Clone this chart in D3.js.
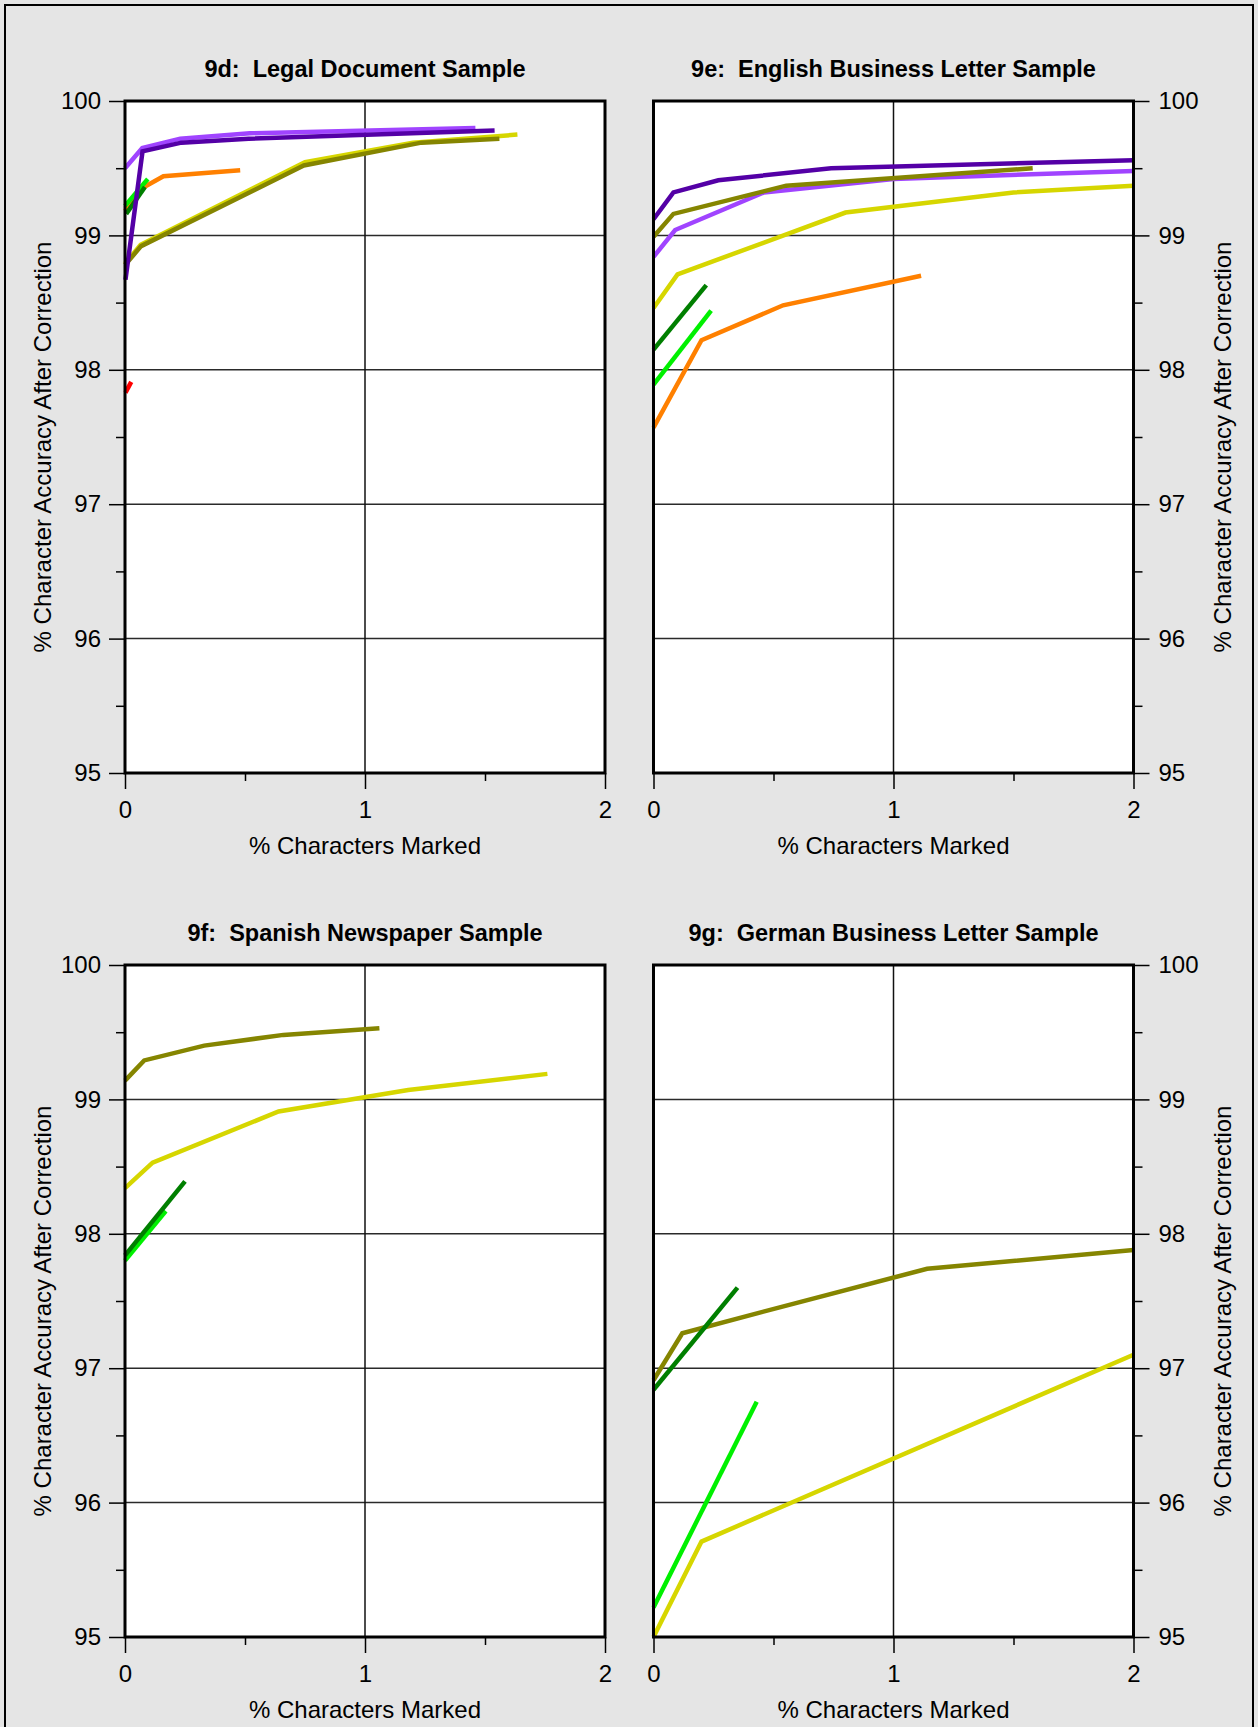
<!DOCTYPE html>
<html>
<head>
<meta charset="utf-8">
<script src="https://cdn.jsdelivr.net/npm/d3@7"></script>
<style>
  html, body { margin: 0; padding: 0; background: #e5e5e5; }
  svg { display: block; }
  text { font-family: "Liberation Sans", Arial, Helvetica, sans-serif; fill: #000; }
  .panel-title { white-space: pre; }
</style>
</head>
<body>
<svg id="chart" width="1258" height="1727"></svg>
<script>
// ---- axis ticks ----
const yMajorTicks = [95, 96, 97, 98, 99, 100];
const yMinorTicks = [95.5, 96.5, 97.5, 98.5, 99.5];
const xMajorTicks = [0, 1, 2];
const xMinorTicks = [0.5, 1.5];
const xTitle = "% Characters Marked";
const yTitle = "% Character Accuracy After Correction";

// ---- series colours ----
const colors = {
  yellow: "#d6d600",
  lightPurple: "#a044ff",
  orange: "#ff8000",
  lightGreen: "#00f000",
  darkGreen: "#007f00",
  red: "#ff0000",
  olive: "#858500",
  darkPurple: "#5400a6"
};

// ---- 9d: Legal Document Sample ([% marked, % accuracy]) ----
const legalYellow      = [[0, 98.79], [0.065, 98.93], [0.75, 99.545], [1.2, 99.69], [1.635, 99.75]];
const legalLightPurple = [[0, 99.50], [0.072, 99.65], [0.23, 99.72], [0.52, 99.76], [1.46, 99.80]];
const legalOrange      = [[0, 99.18], [0.08, 99.36], [0.16, 99.44], [0.48, 99.485]];
const legalLightGreen  = [[0, 99.22], [0.095, 99.42]];
const legalDarkGreen   = [[0.005, 99.16], [0.083, 99.36]];
const legalRed         = [[0.002, 97.83], [0.026, 97.91]];
const legalOlive       = [[0, 98.78], [0.067, 98.92], [0.745, 99.52], [1.235, 99.69], [1.56, 99.72]];
const legalDarkPurple  = [[0.002, 98.67], [0.073, 99.625], [0.235, 99.69], [0.515, 99.72], [1.54, 99.78]];

// ---- 9e: English Business Letter Sample ----
const englishYellow      = [[0, 98.46], [0.10, 98.71], [0.80, 99.17], [1.50, 99.32], [2, 99.37]];
const englishLightPurple = [[0, 98.84], [0.09, 99.04], [0.46, 99.32], [1.0, 99.42], [2, 99.48]];
const englishOrange      = [[0, 97.57], [0.20, 98.22], [0.54, 98.48], [1.115, 98.70]];
const englishLightGreen  = [[0, 97.89], [0.24, 98.44]];
const englishDarkGreen   = [[0, 98.15], [0.22, 98.63]];
const englishOlive       = [[0, 98.99], [0.083, 99.16], [0.553, 99.37], [1.58, 99.50]];
const englishDarkPurple  = [[0, 99.12], [0.083, 99.32], [0.27, 99.41], [0.74, 99.50], [2, 99.56]];

// ---- 9f: Spanish Newspaper Sample ----
const spanishYellow     = [[0, 98.34], [0.115, 98.53], [0.64, 98.91], [1.18, 99.07], [1.76, 99.19]];
const spanishLightGreen = [[0, 97.80], [0.17, 98.17]];
const spanishDarkGreen  = [[0, 97.84], [0.25, 98.39]];
const spanishOlive      = [[0, 99.14], [0.08, 99.29], [0.33, 99.40], [0.66, 99.48], [1.06, 99.53]];

// ---- 9g: German Business Letter Sample ----
const germanYellow     = [[0, 95.0], [0.20, 95.71], [2, 97.10]];
const germanLightGreen = [[0, 95.22], [0.43, 96.75]];
const germanOlive      = [[0, 96.91], [0.12, 97.26], [0.435, 97.41], [1.14, 97.74], [2, 97.88]];
const germanDarkGreen  = [[0, 96.84], [0.35, 97.60]];

// panel layout: plot rectangles and which side carries the value axis
const panels = [
  { title: "9d:  Legal Document Sample", x0: 125, x1: 605, y0: 101, y1: 773, side: "left",
    series: [["yellow", legalYellow], ["lightPurple", legalLightPurple], ["orange", legalOrange],
             ["lightGreen", legalLightGreen], ["darkGreen", legalDarkGreen], ["red", legalRed],
             ["olive", legalOlive], ["darkPurple", legalDarkPurple]] },
  { title: "9e:  English Business Letter Sample", x0: 653.5, x1: 1133.5, y0: 101, y1: 773, side: "right",
    series: [["yellow", englishYellow], ["lightPurple", englishLightPurple], ["orange", englishOrange],
             ["lightGreen", englishLightGreen], ["darkGreen", englishDarkGreen],
             ["olive", englishOlive], ["darkPurple", englishDarkPurple]] },
  { title: "9f:  Spanish Newspaper Sample", x0: 125, x1: 605, y0: 965, y1: 1637, side: "left",
    series: [["yellow", spanishYellow], ["lightGreen", spanishLightGreen],
             ["darkGreen", spanishDarkGreen], ["olive", spanishOlive]] },
  { title: "9g:  German Business Letter Sample", x0: 653.5, x1: 1133.5, y0: 965, y1: 1637, side: "right",
    series: [["yellow", germanYellow], ["lightGreen", germanLightGreen],
             ["olive", germanOlive], ["darkGreen", germanDarkGreen]] }
];

const svg = d3.select("#chart");

// figure background and outer frame
svg.append("rect").attr("x", 0).attr("y", 0).attr("width", 1258).attr("height", 1727).attr("fill", "#e5e5e5");
svg.append("rect").attr("x", 5).attr("y", 5).attr("width", 1248).attr("height", 1740)
  .attr("fill", "none").attr("stroke", "#000").attr("stroke-width", 2);

panels.forEach(p => {
  const x = d3.scaleLinear().domain([0, 2]).range([p.x0, p.x1]);
  const y = d3.scaleLinear().domain([95, 100]).range([p.y1, p.y0]);
  const g = svg.append("g");
  const cx = (p.x0 + p.x1) / 2, cy = (p.y0 + p.y1) / 2;

  // plot area
  g.append("rect").attr("x", p.x0).attr("y", p.y0)
    .attr("width", p.x1 - p.x0).attr("height", p.y1 - p.y0).attr("fill", "#fff");

  // grid
  g.selectAll(".hgrid").data(yMajorTicks.filter(v => v > 95 && v < 100)).join("line")
    .attr("x1", p.x0).attr("x2", p.x1).attr("y1", d => y(d)).attr("y2", d => y(d))
    .attr("stroke", "#2a2a2a").attr("stroke-width", 1.5);
  g.selectAll(".vgrid").data(xMajorTicks.filter(v => v > 0 && v < 2)).join("line")
    .attr("x1", d => x(d)).attr("x2", d => x(d)).attr("y1", p.y0).attr("y2", p.y1)
    .attr("stroke", "#111").attr("stroke-width", 1.5);

  // series
  const line = d3.line().x(d => x(d[0])).y(d => y(d[1]));
  p.series.forEach(([key, data]) => {
    g.append("path").datum(data).attr("d", line)
      .attr("fill", "none").attr("stroke", colors[key]).attr("stroke-width", 4.5)
      .attr("stroke-linejoin", "miter").attr("stroke-miterlimit", 3).attr("stroke-linecap", "butt");
  });

  // frame
  g.append("rect").attr("x", p.x0).attr("y", p.y0)
    .attr("width", p.x1 - p.x0).attr("height", p.y1 - p.y0)
    .attr("fill", "none").attr("stroke", "#000").attr("stroke-width", 3);

  // value axis
  const left = p.side === "left";
  const yAxis = (left ? d3.axisLeft(y) : d3.axisRight(y))
    .tickValues(yMajorTicks).tickSize(16).tickPadding(left ? 8 : 9).tickFormat(d3.format("d"));
  const ya = g.append("g").attr("transform", `translate(${left ? p.x0 : p.x1},0)`).call(yAxis);
  const yMinor = (left ? d3.axisLeft(y) : d3.axisRight(y))
    .tickValues(yMinorTicks).tickSize(9).tickFormat("");
  const ym = g.append("g").attr("transform", `translate(${left ? p.x0 : p.x1},0)`).call(yMinor);

  // marked axis
  const xAxis = d3.axisBottom(x).tickValues(xMajorTicks).tickSize(16).tickPadding(12).tickFormat(d3.format("d"));
  const xa = g.append("g").attr("transform", `translate(0,${p.y1})`).call(xAxis);
  const xMinor = d3.axisBottom(x).tickValues(xMinorTicks).tickSize(8).tickFormat("");
  const xm = g.append("g").attr("transform", `translate(0,${p.y1})`).call(xMinor);

  [ya, ym, xa, xm].forEach(a => {
    a.select(".domain").remove();
    a.selectAll("line").attr("stroke", "#000").attr("stroke-width", 1.5);
    a.selectAll("text").attr("font-size", 24).attr("font-family", null).attr("fill", "#000");
  });

  // titles
  g.append("text").attr("class", "panel-title").attr("x", cx).attr("y", p.y0 - 24)
    .attr("text-anchor", "middle").attr("font-size", 23.5).attr("font-weight", "bold").text(p.title);
  g.append("text").attr("x", cx).attr("y", p.y1 + 81).attr("text-anchor", "middle")
    .attr("font-size", 24).text(xTitle);
  const tx = left ? 51 : 1231;
  g.append("text").attr("transform", `translate(${tx},${cy + 10}) rotate(-90)`)
    .attr("text-anchor", "middle").attr("font-size", 24).text(yTitle);
});
</script>
</body>
</html>
